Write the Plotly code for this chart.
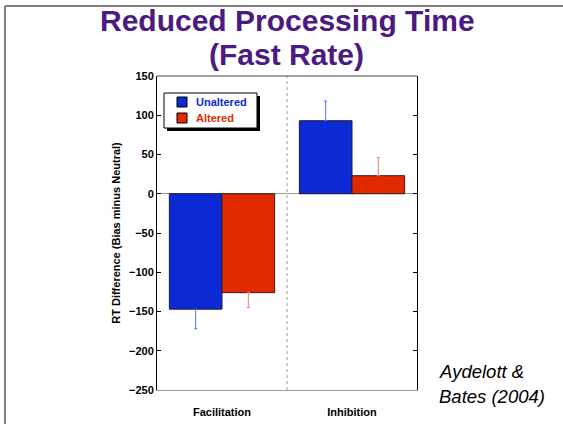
import plotly.graph_objects as go

categories = ["Facilitation", "Inhibition"]
series_names = ["Unaltered", "Altered"]
unaltered_means = [-147, 93]
altered_means = [-126, 23]
unaltered_err = [25, 25]
altered_err = [19, 23]
y_ticks = [150, 100, 50, 0, -50, -100, -150, -200, -250]

BLUE = "#0b2ad6"
RED = "#e22a00"
BLUE_ERR = "#4a6cf0"
RED_ERR = "#f07e6c"
PURPLE = "#4b1a82"
FONT = "Liberation Sans, Arial, sans-serif"

W, H = 563, 424
L, R, T, B = 157, 146, 76, 34
PW, PH = W - L - R, H - T - B


def px(x):
    return (x - L) / PW


def py(y):
    return (H - B - y) / PH


def one_sided(means, errs):
    up = [e if m > 0 else 0 for m, e in zip(means, errs)]
    down = [e if m < 0 else 0 for m, e in zip(means, errs)]
    return up, down


u_up, u_down = one_sided(unaltered_means, unaltered_err)
a_up, a_down = one_sided(altered_means, altered_err)

fig = go.Figure()
fig.add_trace(go.Bar(
    x=categories, y=unaltered_means, name=series_names[0],
    marker=dict(color=BLUE, line=dict(color="#1a1a3a", width=1)),
    error_y=dict(type="data", symmetric=False, array=u_up, arrayminus=u_down,
                 color=BLUE_ERR, thickness=1, width=1.5),
))
fig.add_trace(go.Bar(
    x=categories, y=altered_means, name=series_names[1],
    marker=dict(color=RED, line=dict(color="#3a1a1a", width=1)),
    error_y=dict(type="data", symmetric=False, array=a_up, arrayminus=a_down,
                 color=RED_ERR, thickness=1, width=1.5),
))

shapes = [
    # category divider
    dict(type="line", xref="paper", yref="paper", x0=0.5, x1=0.5, y0=0, y1=1,
         line=dict(color="#999999", width=1, dash="dot")),
    # top border
    dict(type="line", xref="paper", yref="paper", x0=0, x1=1, y0=1, y1=1,
         line=dict(color="#444444", width=1)),
    # slide frame
    dict(type="line", xref="paper", yref="paper", x0=px(5), x1=px(563), y0=py(6), y1=py(6),
         line=dict(color="#808080", width=2)),
    dict(type="line", xref="paper", yref="paper", x0=px(5), x1=px(5), y0=py(6), y1=py(430),
         line=dict(color="#808080", width=2)),
    # legend box with shadow
    dict(type="rect", xref="paper", yref="paper", x0=px(167), x1=px(260), y0=py(96), y1=py(131),
         fillcolor="#000000", line=dict(width=0), layer="above"),
    dict(type="rect", xref="paper", yref="paper", x0=px(164), x1=px(257), y0=py(93), y1=py(128),
         fillcolor="#ffffff", line=dict(color="#000000", width=1), layer="above"),
    # legend swatches
    dict(type="rect", xref="paper", yref="paper", x0=px(177), x1=px(187), y0=py(97), y1=py(107),
         fillcolor=BLUE, line=dict(color="#000000", width=1), layer="above"),
    dict(type="rect", xref="paper", yref="paper", x0=px(177), x1=px(187), y0=py(113), y1=py(123),
         fillcolor=RED, line=dict(color="#000000", width=1), layer="above"),
]

annotations = [
    dict(text="Reduced Processing Time", xref="paper", yref="paper",
         x=px(287), y=py(20), xanchor="center", yanchor="middle", showarrow=False,
         font=dict(size=30, color=PURPLE, weight="bold", family=FONT)),
    dict(text="(Fast Rate)", xref="paper", yref="paper",
         x=px(286), y=py(55), xanchor="center", yanchor="middle", showarrow=False,
         font=dict(size=30, color=PURPLE, weight="bold", family=FONT)),
    dict(text="<i>Aydelott &</i>", xref="paper", yref="paper",
         x=px(437), y=py(371), xanchor="left", yanchor="middle", showarrow=False,
         font=dict(size=18.5, color="#000000", family=FONT)),
    dict(text="<i>Bates (2004)</i>", xref="paper", yref="paper",
         x=px(437), y=py(396), xanchor="left", yanchor="middle", showarrow=False,
         font=dict(size=18.5, color="#000000", family=FONT)),
    dict(text=series_names[0], xref="paper", yref="paper",
         x=px(194), y=py(102), xanchor="left", yanchor="middle", showarrow=False,
         font=dict(size=11, color=BLUE, weight="bold", family=FONT)),
    dict(text=series_names[1], xref="paper", yref="paper",
         x=px(194), y=py(118), xanchor="left", yanchor="middle", showarrow=False,
         font=dict(size=11, color=RED, weight="bold", family=FONT)),
]

fig.update_layout(
    width=W, height=H,
    margin=dict(l=L, r=R, t=T, b=B),
    paper_bgcolor="white", plot_bgcolor="white",
    font=dict(family=FONT, color="#000000"),
    barmode="group", bargap=0.19, bargroupgap=0,
    showlegend=False,
    shapes=shapes,
    annotations=annotations,
    xaxis=dict(showline=True, linecolor="#999999", linewidth=1, ticks="",
               tickfont=dict(size=11, weight="bold"), ticklabelstandoff=12,
               showgrid=False, zeroline=False, automargin=False),
    yaxis=dict(range=[-250, 150], tickvals=y_ticks, showline=True, linecolor="#000000",
               linewidth=1, mirror="ticks", ticks="inside", ticklen=4, tickcolor="#000000",
               tickfont=dict(size=11, weight="bold"), showgrid=False, automargin=False,
               zeroline=True, zerolinecolor="#999999", zerolinewidth=1,
               title=dict(text="RT Difference (Bias minus Neutral)",
                          font=dict(size=11, weight="bold"), standoff=6)),
)

fig.write_html("out.html")
